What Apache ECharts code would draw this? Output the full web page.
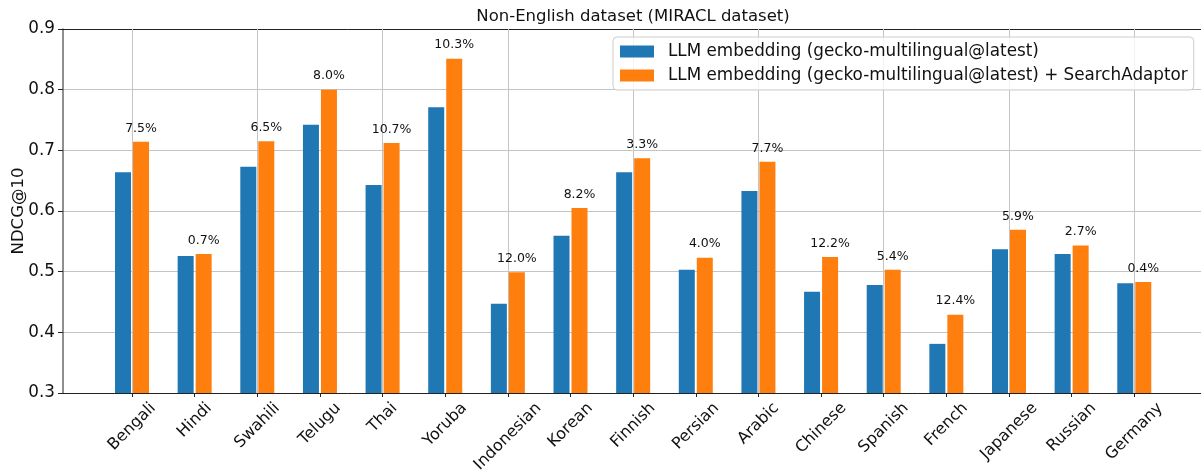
<!DOCTYPE html>
<html>
<head>
<meta charset="utf-8">
<script src="https://cdn.jsdelivr.net/npm/echarts@6/dist/echarts.min.js"></script>
<style>
html, body { margin: 0; padding: 0; background: #fff; }
#chart { width: 1201px; height: 472px; }
</style>
</head>
<body>
<div id="chart"></div>
<script>
// data
const languages = ['Bengali', 'Hindi', 'Swahili', 'Telugu', 'Thai', 'Yoruba', 'Indonesian', 'Korean',
  'Finnish', 'Persian', 'Arabic', 'Chinese', 'Spanish', 'French', 'Japanese', 'Russian', 'Germany']
const baseScores = [0.664, 0.526, 0.673, 0.742, 0.643, 0.771, 0.447, 0.559, 0.664, 0.503, 0.633,
  0.467, 0.478, 0.381, 0.537, 0.529, 0.481]
const adaptorScores = [0.714, 0.529, 0.715, 0.800, 0.712, 0.851, 0.499, 0.605, 0.687, 0.523, 0.681,
  0.524, 0.503, 0.429, 0.569, 0.543, 0.483]
const gains = [7.5, 0.7, 6.5, 8.0, 10.7, 10.3, 12.0, 8.2, 3.3, 4.0, 7.7, 12.2, 5.4, 12.4, 5.9, 2.7, 0.4]
const seriesNames = ['LLM embedding (gecko-multilingual@latest)',
  'LLM embedding (gecko-multilingual@latest) + SearchAdaptor']

const FONT = '"DejaVu Sans", sans-serif'
const gridColor = '#c4c4c4'

// rotated labels centred under the tick, like matplotlib's rotation=45
const measureCtx = document.createElement('canvas').getContext('2d')
measureCtx.font = '16px "DejaVu Sans"'
const labelMargin = -20
const labelLine = 16
function labelItem(name) {
  const w = measureCtx.measureText(name).width
  const c = (12.6 - labelMargin) / Math.SQRT1_2 - labelLine / 2
  const pt = (c + w / 2 - labelLine / 2) / 2
  const pr = Math.max(0, (c - w / 2 + labelLine / 2) / 2)
  return {
    value: name,
    textStyle: { align: 'right', verticalAlign: 'top', padding: [pt, pr, 0, 0] }
  }
}

const myChart = echarts.init(document.getElementById('chart'))

let option = {
  animation: false,
  textStyle: { fontFamily: FONT },
  title: {
    text: 'Non-English dataset (MIRACL dataset)',
    left: 633,
    top: 8,
    padding: 0,
    textAlign: 'center',
    textStyle: { fontFamily: FONT, fontSize: 16.5, fontWeight: 'normal', color: '#111' }
  },
  legend: {
    orient: 'vertical',
    left: 613,
    top: 37,
    padding: [6, 6, 6, 7],
    itemWidth: 34,
    itemHeight: 12,
    itemGap: 7,
    icon: 'rect',
    backgroundColor: 'rgba(255,255,255,0.8)',
    borderColor: '#cccccc',
    borderWidth: 1,
    borderRadius: 4,
    textStyle: { fontFamily: FONT, fontSize: 16.8, color: '#111', lineHeight: 17, padding: [0, 0, 0, 9] },
    data: seriesNames
  },
  grid: [
    { left: 63, right: -5, top: 29, bottom: 79, outerBoundsMode: 'none', containLabel: false },
    { left: 100.7, right: 35.4, top: 29, bottom: 79, outerBoundsMode: 'none', containLabel: false }
  ],
  xAxis: [
    {
      gridIndex: 0, type: 'value', position: 'bottom', min: 0, max: 1,
      axisLine: { show: true, onZero: false, lineStyle: { color: '#222', width: 1 } },
      axisTick: { show: false }, axisLabel: { show: false }, splitLine: { show: false }
    },
    {
      gridIndex: 1,
      type: 'category',
      position: 'bottom',
      data: languages,
      axisLine: { show: true, lineStyle: { opacity: 0 } },
      axisLabel: { show: false },
      axisTick: { show: true, inside: true, length: 364, alignWithLabel: true, lineStyle: { color: gridColor, width: 1 } },
      splitLine: { show: false }
    },
    {
      gridIndex: 1,
      type: 'category',
      position: 'bottom',
      data: languages.map(labelItem),
      axisLine: { show: true, lineStyle: { opacity: 0 } },
      axisTick: { show: true, length: 4, alignWithLabel: true, lineStyle: { color: '#222' } },
      axisLabel: { interval: 0, rotate: 45, margin: labelMargin, fontFamily: FONT, fontSize: 16, color: '#111' },
      splitLine: { show: false }
    },
    {
      gridIndex: 0, type: 'value', position: 'top', min: 0, max: 1,
      axisLine: { show: true, onZero: false, lineStyle: { color: '#222', width: 1 } },
      axisTick: { show: false }, axisLabel: { show: false }, splitLine: { show: false }
    }
  ],
  yAxis: [
    {
      gridIndex: 0,
      type: 'value',
      position: 'left',
      min: 0.3,
      max: 0.9,
      interval: 0.1,
      name: 'NDCG@10',
      nameLocation: 'middle',
      nameGap: 36,
      nameMoveOverlap: false,
      nameTextStyle: { fontFamily: FONT, fontSize: 16.5, color: '#111' },
      axisLine: { show: true, lineStyle: { color: '#6a6a6a', width: 1.5 } },
      axisTick: { show: true, length: 5, lineStyle: { color: '#222' } },
      axisLabel: { margin: 8, fontFamily: FONT, fontSize: 16.8, color: '#111', formatter: v => v.toFixed(1) },
      splitLine: { show: true, lineStyle: { color: gridColor, width: 1 } }
    },
    { gridIndex: 1, type: 'value', position: 'left', min: 0.3, max: 0.9, show: false }
  ],
  series: [
    {
      name: seriesNames[0],
      type: 'bar',
      xAxisIndex: 1,
      yAxisIndex: 1,
      barWidth: 16,
      barGap: '12.5%',
      itemStyle: { color: '#1f77b4', borderWidth: 0, borderRadius: 0 },
      data: baseScores
    },
    {
      name: seriesNames[1],
      type: 'bar',
      xAxisIndex: 1,
      yAxisIndex: 1,
      barWidth: 16,
      barGap: '12.5%',
      itemStyle: { color: '#ff7f0e', borderWidth: 0, borderRadius: 0 },
      label: {
        show: true,
        position: 'top',
        distance: 7,
        fontFamily: FONT,
        fontSize: 12.5,
        color: '#111',
        formatter: p => gains[p.dataIndex].toFixed(1) + '%'
      },
      data: adaptorScores
    }
  ]
}
myChart.setOption(option)
</script>
</body>
</html>
